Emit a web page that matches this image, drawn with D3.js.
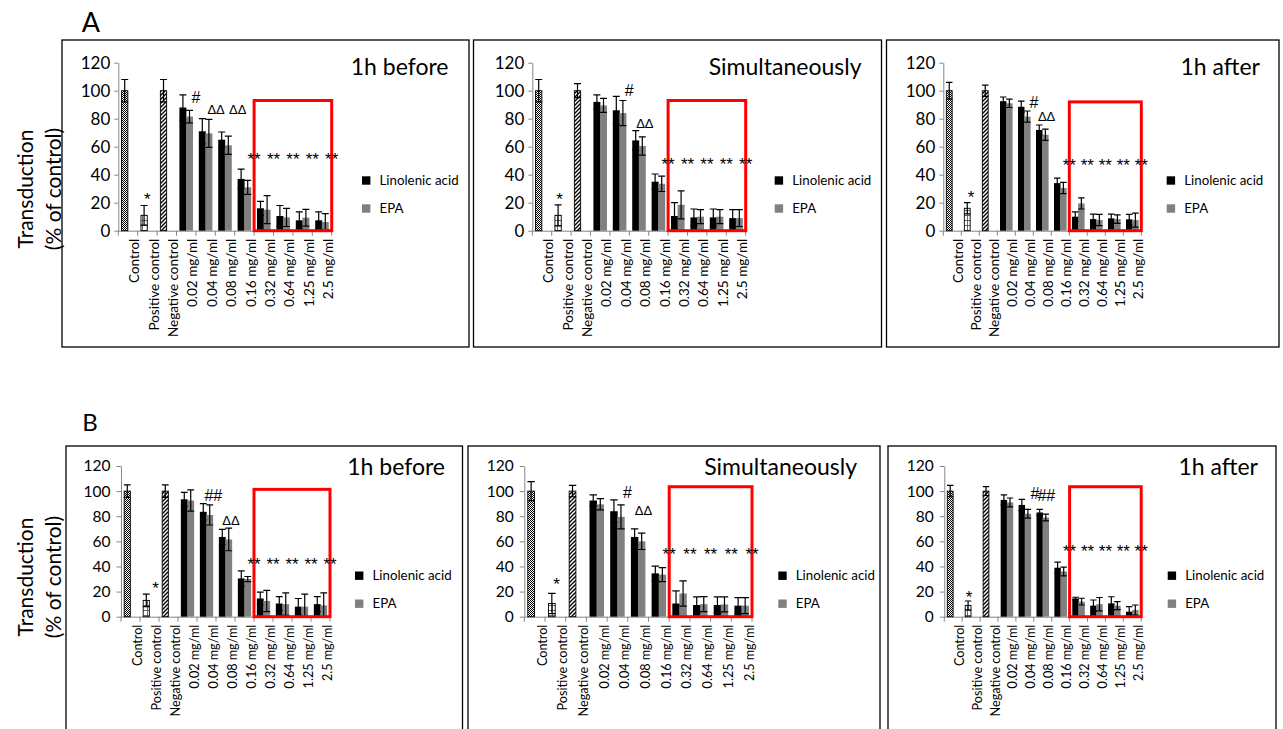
<!DOCTYPE html>
<html><head><meta charset="utf-8">
<script src="https://cdn.jsdelivr.net/npm/d3@7"></script>
<style>
body{margin:0;background:#fff;}
svg{display:block;}
text{font-family:Lato,"Open Sans",sans-serif;fill:#000;}
</style>
</head><body>
<svg id="chart" width="1283" height="729"></svg>
<script>
// ---------------- DATA ----------------
const categories = ["Control","Positive control","Negative control","0.02 mg/ml","0.04 mg/ml","0.08 mg/ml","0.16 mg/ml","0.32 mg/ml","0.64 mg/ml","1.25 mg/ml","2.5 mg/ml"];
const controlCategories = categories.slice(0,3);
const doseCategories = categories.slice(3);
const yTicks = [0,20,40,60,80,100,120];
const seriesNames = ["Linolenic acid","EPA"];
const panelTitles = ["1h before","Simultaneously","1h after"];
const rowLetters = ["A","B"];
const axisTitleLines = ["Transduction","(% of control)"];
const starCategories = ["0.16 mg/ml","0.32 mg/ml","0.64 mg/ml","1.25 mg/ml","2.5 mg/ml"];
const boxedCategories = ["0.32 mg/ml","0.64 mg/ml","1.25 mg/ml","2.5 mg/ml"];

// Panel A1 - 1h before
const a1Controls = [100, 11, 100];
const a1ControlsSd = [8, 7, 8];
const a1Linolenic = [88, 71, 65, 37, 16, 10.5, 7.4, 7.4];
const a1LinolenicSd = [9, 9, 5.5, 7, 5, 7.5, 6, 6];
const a1Epa = [81.5, 69.5, 61, 31, 15, 9.5, 9.3, 6.2];
const a1EpaSd = [4.5, 10, 6.5, 5, 10, 6.5, 6, 6];
const a1Marks = [{t:"*",cat:"Positive control",at:0.5,v:26},{t:"#",cat:"0.02 mg/ml",at:1.0,v:95.5},{t:"ΔΔ",cat:"0.04 mg/ml",at:1.04,v:87},{t:"ΔΔ",cat:"0.08 mg/ml",at:1.16,v:87}];
const a1StarLevel = 54;
const a1BoxTop = 93;

// Panel A2 - Simultaneously
const a2Controls = [100, 11, 100];
const a2ControlsSd = [8, 7.5, 5];
const a2Linolenic = [92, 86, 64.5, 35, 10.5, 9.5, 9.5, 9];
const a2LinolenicSd = [5, 10, 7, 5.5, 9.5, 6, 6, 6];
const a2Epa = [89.5, 84, 60.5, 33.5, 18.5, 10, 10, 9];
const a2EpaSd = [5, 9, 6.5, 5.5, 10, 5, 5, 6];
const a2Marks = [{t:"*",cat:"Positive control",at:0.4,v:26},{t:"#",cat:"0.04 mg/ml",at:1.0,v:100.5},{t:"ΔΔ",cat:"0.08 mg/ml",at:0.8,v:77}];
const a2StarLevel = 50.5;
const a2BoxTop = 93;

// Panel A3 - 1h after
const a3Controls = [100, 16, 100];
const a3ControlsSd = [6, 4, 4];
const a3Linolenic = [92.5, 88.5, 72, 34, 10, 8.3, 8.8, 8.1];
const a3LinolenicSd = [3, 4, 3.5, 3.5, 3.5, 3.5, 3, 3.5];
const a3Epa = [91, 81.5, 68.5, 30.5, 19.5, 7.6, 8.3, 7.6];
const a3EpaSd = [3, 4, 4, 4, 4, 4, 3, 5];
const a3Marks = [{t:"*",cat:"Positive control",at:0.54,v:27.4},{t:"#",cat:"0.04 mg/ml",at:1.04,v:92},{t:"ΔΔ",cat:"0.08 mg/ml",at:0.74,v:82}];
const a3StarLevel = 50;
const a3BoxTop = 92;

// Panel B1 - 1h before
const b1Controls = [100, 13, 100];
const b1ControlsSd = [5, 5, 5];
const b1Linolenic = [93.5, 83.5, 63.5, 30.5, 14.5, 10.5, 8, 10];
const b1LinolenicSd = [5.5, 6.5, 6, 6, 5, 5.5, 6.5, 6];
const b1Epa = [92.5, 81, 61.5, 30, 12.5, 10, 8, 9];
const b1EpaSd = [8.5, 8, 9, 2, 8.5, 9, 10, 10];
const b1Marks = [{t:"*",cat:"Positive control",at:0.82,v:26},{t:"##",cat:"0.04 mg/ml",at:0.86,v:97},{t:"ΔΔ",cat:"0.08 mg/ml",at:0.79,v:76.5}];
const b1StarLevel = 45.7;
const b1BoxTop = 101.4;

// Panel B2 - Simultaneously
const b2Controls = [100, 10.5, 100];
const b2ControlsSd = [7.5, 8, 4.5];
const b2Linolenic = [92.5, 84, 63.5, 34.5, 10.5, 9.3, 9.3, 8.8];
const b2LinolenicSd = [4.5, 9, 6.5, 5.8, 10, 6.5, 6.5, 6.4];
const b2Epa = [89.5, 79.5, 60, 33.5, 18.5, 10, 9.8, 8.8];
const b2EpaSd = [4.5, 9.5, 6.5, 5.6, 10, 6, 6, 6.4];
const b2Marks = [{t:"*",cat:"Positive control",at:0.56,v:29.2},{t:"#",cat:"0.04 mg/ml",at:0.98,v:99.5},{t:"ΔΔ",cat:"0.08 mg/ml",at:0.76,v:85}];
const b2StarLevel = 53;
const b2BoxTop = 103.5;

// Panel B3 - 1h after
const b3Controls = [100, 9, 100];
const b3ControlsSd = [4.5, 3.5, 3.5];
const b3Linolenic = [93, 89, 83, 39, 14.5, 8.8, 10.6, 4];
const b3LinolenicSd = [4, 4.5, 2.5, 4.5, 1, 4.5, 5.3, 4];
const b3Epa = [91, 82, 79, 36, 12, 10, 8.8, 5.3];
const b3EpaSd = [3.5, 3.5, 2.7, 3.5, 2.7, 5.3, 3.2, 4];
const b3Marks = [{t:"*",cat:"Positive control",at:0.39,v:19.4},{t:"#",cat:"0.04 mg/ml",at:1.06,v:98.2},{t:"##",cat:"0.08 mg/ml",at:0.7,v:97}];
const b3StarLevel = 55.7;
const b3BoxTop = 103.5;

const panelData = [
  {controls:a1Controls, controlsSd:a1ControlsSd, lin:a1Linolenic, linSd:a1LinolenicSd, epa:a1Epa, epaSd:a1EpaSd, marks:a1Marks, star:a1StarLevel, boxTop:a1BoxTop, title:panelTitles[0]},
  {controls:a2Controls, controlsSd:a2ControlsSd, lin:a2Linolenic, linSd:a2LinolenicSd, epa:a2Epa, epaSd:a2EpaSd, marks:a2Marks, star:a2StarLevel, boxTop:a2BoxTop, title:panelTitles[1]},
  {controls:a3Controls, controlsSd:a3ControlsSd, lin:a3Linolenic, linSd:a3LinolenicSd, epa:a3Epa, epaSd:a3EpaSd, marks:a3Marks, star:a3StarLevel, boxTop:a3BoxTop, title:panelTitles[2]},
  {controls:b1Controls, controlsSd:b1ControlsSd, lin:b1Linolenic, linSd:b1LinolenicSd, epa:b1Epa, epaSd:b1EpaSd, marks:b1Marks, star:b1StarLevel, boxTop:b1BoxTop, title:panelTitles[0]},
  {controls:b2Controls, controlsSd:b2ControlsSd, lin:b2Linolenic, linSd:b2LinolenicSd, epa:b2Epa, epaSd:b2EpaSd, marks:b2Marks, star:b2StarLevel, boxTop:b2BoxTop, title:panelTitles[1]},
  {controls:b3Controls, controlsSd:b3ControlsSd, lin:b3Linolenic, linSd:b3LinolenicSd, epa:b3Epa, epaSd:b3EpaSd, marks:b3Marks, star:b3StarLevel, boxTop:b3BoxTop, title:panelTitles[2]}
];

// ---------------- LAYOUT ----------------
const rowStyle = [
  {yBase:230.7, yTop:62.7, tickFont:17, labelFont:13.5, tickSize:4, tickPad:4, titleBase:75, legendY:180.5, letter:{x:91, y:32, size:27}, axisTitleY:189},
  {yBase:616.7, yTop:466, tickFont:15.5, labelFont:12.6, tickSize:4.5, tickPad:6, titleBase:475, legendY:575.7, letter:{x:90, y:431, size:24}, axisTitleY:577}
];
const layouts = [
  {row:0, box:[62,40,469,347], x0:118.3, x1:331.7, titleRight:448.5, legendX:362},
  {row:0, box:[473.5,40,881.5,347], x0:532.3, x1:745.7, titleRight:861.5, legendX:774.7},
  {row:0, box:[886.5,40,1279,347], x0:943.3, x1:1141.3, titleRight:1260, legendX:1166.7},
  {row:1, box:[66,446,462.5,745], x0:121, x1:330, titleRight:445, legendX:355},
  {row:1, box:[468,446,880,745], x0:524.3, x1:752, titleRight:857, legendX:778.3},
  {row:1, box:[888,446,1276,745], x0:944.3, x1:1141.2, titleRight:1258, legendX:1167.7}
];
const annotFont = "'Liberation Sans', Arial, sans-serif";

const svg = d3.select("#chart");
svg.append("rect").attr("width",1283).attr("height",729).attr("fill","#fff");

// patterns
const defs = svg.append("defs");
const pc = defs.append("pattern").attr("id","pCheck").attr("patternUnits","userSpaceOnUse").attr("width",2).attr("height",2);
pc.append("rect").attr("width",2).attr("height",2).attr("fill","#fff");
pc.append("rect").attr("width",1).attr("height",1).attr("fill","#000");
pc.append("rect").attr("x",1).attr("y",1).attr("width",1).attr("height",1).attr("fill","#000");
const pg = defs.append("pattern").attr("id","pGrid").attr("patternUnits","userSpaceOnUse").attr("width",5).attr("height",5);
pg.append("rect").attr("width",5).attr("height",5).attr("fill","#fff");
pg.append("path").attr("d","M0,0.5H5M2.5,0V5").attr("stroke","#444").attr("stroke-width",0.8);
const pd = defs.append("pattern").attr("id","pDiag").attr("patternUnits","userSpaceOnUse").attr("width",4).attr("height",4);
pd.append("rect").attr("width",4).attr("height",4).attr("fill","#fff");
pd.append("path").attr("d","M-1,1L1,-1M0,4L4,0M3,5L5,3").attr("stroke","#000").attr("stroke-width",1.4);
const controlFills = ["url(#pCheck)","url(#pGrid)","url(#pDiag)"];
const seriesColors = ["#000000","#808080"];
const axisColor = "#868686";

// row letters and axis titles
rowStyle.forEach((rs, i) => {
  svg.append("text").attr("x", rs.letter.x).attr("y", rs.letter.y).attr("text-anchor","middle")
    .style("font-size", rs.letter.size + "px").text(rowLetters[i]);
  axisTitleLines.forEach((line, j) => {
    svg.append("text").attr("transform", `translate(${33 + j*28},${rs.axisTitleY}) rotate(-90)`)
      .attr("text-anchor","middle").style("font-size","21px").text(line);
  });
});

layouts.forEach((L, pi) => {
  const D = panelData[pi];
  const R = rowStyle[L.row];
  const g = svg.append("g");
  // panel border
  g.append("rect").attr("x",L.box[0]).attr("y",L.box[1]).attr("width",L.box[2]-L.box[0]).attr("height",L.box[3]-L.box[1])
    .attr("fill","none").attr("stroke","#000").attr("stroke-width",1.3);

  const x = d3.scaleBand().domain(categories).range([L.x0, L.x1]).padding(0);
  const y = d3.scaleLinear().domain([0,120]).range([R.yBase, R.yTop]);
  const bw = x.bandwidth();
  const barW = bw*0.36;
  const off = [-0.17*bw, 0.17*bw];
  const capW = bw*0.36;

  // y axis
  const ya = g.append("g").attr("transform",`translate(${L.x0},0)`)
    .call(d3.axisLeft(y).tickValues(yTicks).tickSize(R.tickSize).tickSizeOuter(0).tickPadding(R.tickPad));
  ya.select(".domain").attr("stroke",axisColor);
  ya.selectAll(".tick line").attr("stroke",axisColor);
  ya.selectAll(".tick text").style("font-size",R.tickFont+"px").style("font-family","Lato, 'Open Sans', sans-serif").attr("fill","#000");

  // x axis
  const xa = g.append("g").attr("transform",`translate(0,${R.yBase})`)
    .call(d3.axisBottom(x).tickSize(0).tickSizeOuter(0).tickPadding(0));
  xa.select(".domain").attr("stroke",axisColor);
  xa.selectAll(".tick text")
    .attr("y",0).attr("dy",0)
    .attr("transform",`translate(${bw*0.5+1.5},8) rotate(-90)`)
    .attr("text-anchor","end")
    .style("font-size",R.labelFont+"px").style("font-family","Lato, 'Open Sans', sans-serif").attr("fill","#000");
  const boundaries = categories.map(c => x(c)).concat([L.x1]);
  xa.selectAll(".bnd").data(boundaries).enter().append("line").attr("class","bnd")
    .attr("x1",d=>d).attr("x2",d=>d).attr("y1",0).attr("y2",5).attr("stroke",axisColor);

  // control bars
  const ctrl = controlCategories.map((c,i)=>({cat:c, v:D.controls[i], sd:D.controlsSd[i], fill:controlFills[i]}));
  g.selectAll(".ctrl").data(ctrl).enter().append("rect")
    .attr("x",d=>x(d.cat)+bw/2+off[0]-barW*0.45)
    .attr("width",barW*0.9)
    .attr("y",d=>y(d.v)).attr("height",d=>R.yBase-y(d.v))
    .attr("fill",d=>d.fill).attr("stroke","#000").attr("stroke-width",0.9);

  // series bars
  const series = [
    doseCategories.map((c,i)=>({cat:c, v:D.lin[i], sd:D.linSd[i]})),
    doseCategories.map((c,i)=>({cat:c, v:D.epa[i], sd:D.epaSd[i]}))
  ];
  series.forEach((s, si) => {
    g.selectAll(".s"+si).data(s).enter().append("rect")
      .attr("x",d=>x(d.cat)+bw/2+off[si]-barW/2)
      .attr("width",barW)
      .attr("y",d=>y(d.v)).attr("height",d=>R.yBase-y(d.v))
      .attr("fill",seriesColors[si]);
  });

  // error bars
  const errs = ctrl.map(d=>({cx:x(d.cat)+bw/2+off[0], v:d.v, sd:d.sd}))
    .concat(series[0].map(d=>({cx:x(d.cat)+bw/2+off[0], v:d.v, sd:d.sd})))
    .concat(series[1].map(d=>({cx:x(d.cat)+bw/2+off[1], v:d.v, sd:d.sd})));
  const eg = g.append("g").attr("stroke","#000").attr("stroke-width",1.2).attr("fill","none");
  errs.forEach(e => {
    const lo = y(Math.max(0,e.v-e.sd)), hi = y(e.v+e.sd);
    eg.append("path").attr("d",`M${e.cx},${lo}V${hi}M${e.cx-capW/2},${hi}H${e.cx+capW/2}M${e.cx-capW/2},${lo}H${e.cx+capW/2}`);
  });

  // red box
  const bx0 = x(boxedCategories[0]);
  g.append("rect").attr("x",bx0).attr("y",y(D.boxTop)).attr("width",L.x1-bx0).attr("height",R.yBase-y(D.boxTop))
    .attr("fill","none").attr("stroke","#ff0000").attr("stroke-width",3);

  // annotations
  const marks = D.marks.concat(starCategories.map(c=>({t:"**",cat:c,at:1.0,v:D.star})));
  marks.forEach(m => {
    const isStar = m.t.indexOf("*")>=0;
    const fs = isStar ? 17 : (m.t.indexOf("#")>=0 ? 16 : 13);
    const k = isStar ? 0.6 : 0.36;
    g.append("text").attr("x", x(m.cat)+m.at*bw).attr("y", y(m.v)+k*fs)
      .attr("text-anchor","middle").style("font-family",annotFont).style("font-size",fs+"px").text(m.t);
  });

  // title
  g.append("text").attr("x",L.titleRight).attr("y",R.titleBase).attr("text-anchor","end")
    .style("font-size","23px").text(D.title);

  // legend
  seriesNames.forEach((n, si) => {
    const cy = R.legendY + si*28;
    g.append("rect").attr("x",L.legendX).attr("y",cy-4.2).attr("width",8.4).attr("height",8.4).attr("fill",seriesColors[si]);
    g.append("text").attr("x",L.legendX+17.5).attr("y",cy).attr("dy","0.35em").style("font-size","13.3px").text(n);
  });
});
</script>
</body></html>
